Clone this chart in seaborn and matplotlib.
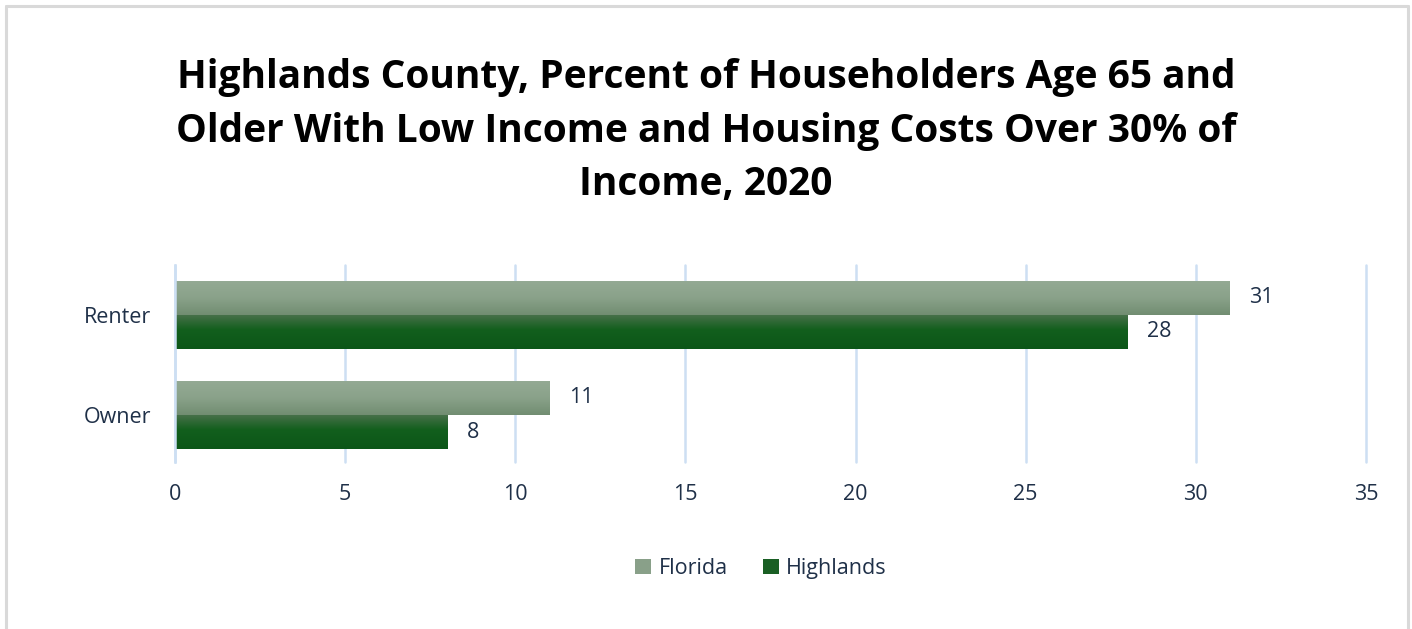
import numpy as np
import pandas as pd
import matplotlib
matplotlib.use("Agg")
import matplotlib.pyplot as plt
from matplotlib.lines import Line2D
from matplotlib.patches import Patch
from matplotlib.colors import LinearSegmentedColormap
import seaborn as sns

# Data
categories = ["Renter", "Owner"]
series_names = ["Florida", "Highlands"]
florida_values = [31, 11]
highlands_values = [28, 8]
x_ticks = [0, 5, 10, 15, 20, 25, 30, 35]
title = ("Highlands County, Percent of Householders Age 65 and\n"
         "Older With Low Income and Housing Costs Over 30% of\n"
         "Income, 2020")

df = pd.DataFrame({
    "Tenure": categories * 2,
    "Area": [series_names[0]] * len(categories) + [series_names[1]] * len(categories),
    "Percent": florida_values + highlands_values,
})

sns.set_theme(style="white")
plt.rcParams["font.family"] = ["Open Sans", "DejaVu Sans"]

text_color = "#1f3048"
grid_color = "#cddff3"
palette = {"Florida": "#89a089", "Highlands": "#1a5f24"}

# vertical gradients (top -> bottom) per series
gradients = {
    "Florida": LinearSegmentedColormap.from_list("fl", ["#94aa94", "#8aa28a", "#718d71"]),
    "Highlands": LinearSegmentedColormap.from_list(
        "hl", [(0.0, "#4a714c"), (0.45, "#125f1d"), (1.0, "#0c5618")]),
}

fig = plt.figure(figsize=(14.12, 6.29), dpi=100)
ax = fig.add_axes([0.1239, 0.2655, 0.8435, 0.3132])

sns.barplot(data=df, y="Tenure", x="Percent", hue="Area", order=categories,
            hue_order=series_names, palette=palette, orient="h", width=0.68,
            gap=0, saturation=1, ax=ax, legend=False, edgecolor="none")

ax.set_xlim(0, 35)
ax.set_ylim(1.47, -0.5)
ax.set_xticks(x_ticks)
ax.set_xlabel("")
ax.set_ylabel("")
ax.grid(axis="x", color=grid_color, linewidth=1.8)
ax.grid(axis="y", visible=False)
ax.set_axisbelow(True)
for gl in ax.get_xgridlines():
    gl.set_clip_on(False)
for side in ["top", "right", "bottom"]:
    ax.spines[side].set_visible(False)
ax.spines["left"].set_color(grid_color)
ax.spines["left"].set_linewidth(1.8)
ax.tick_params(axis="both", length=0, labelsize=15.5, colors=text_color)
ax.tick_params(axis="x", pad=16)
ax.tick_params(axis="y", pad=17)

# paint each bar with a vertical gradient and label its value
grad = np.linspace(0, 1, 256).reshape(-1, 1)
for container, name in zip(ax.containers, series_names):
    for patch in container:
        x0, y0 = patch.get_x(), patch.get_y()
        w, h = patch.get_width(), patch.get_height()
        im = ax.imshow(grad, cmap=gradients[name], aspect="auto",
                       extent=(x0, x0 + w, y0 + h, y0), origin="upper",
                       zorder=patch.get_zorder() + 0.1, interpolation="bilinear")
        im.set_clip_path(patch)
        patch.set_facecolor("none")
    ax.bar_label(container, padding=14, fontsize=15.5, color=text_color)

ax.set_xlim(0, 35)
ax.set_ylim(1.47, -0.5)

fig.text(0.5, 0.907, title, ha="center", va="top", fontsize=28,
         fontweight="bold", color="black", linespacing=1.47)

handles = [Patch(facecolor=palette[n], edgecolor="none") for n in series_names]
fig.legend(handles, series_names, loc="center", bbox_to_anchor=(0.539, 0.096),
           ncol=2, frameon=False, fontsize=15.5, labelcolor=text_color,
           handlelength=0.75, handleheight=0.75, handletextpad=0.35, columnspacing=1.6)

# outer frame
frame_kw = dict(color="#d9d9d9", linewidth=2.2, transform=fig.transFigure)
fig.add_artist(Line2D([6 / 1412, 6 / 1412], [-0.01, 1 - 6 / 629], **frame_kw))
fig.add_artist(Line2D([6 / 1412, 1408 / 1412], [1 - 6 / 629, 1 - 6 / 629], **frame_kw))
fig.add_artist(Line2D([1408 / 1412, 1408 / 1412], [-0.01, 1 - 6 / 629], **frame_kw))

fig.savefig("out.png", dpi=100)
